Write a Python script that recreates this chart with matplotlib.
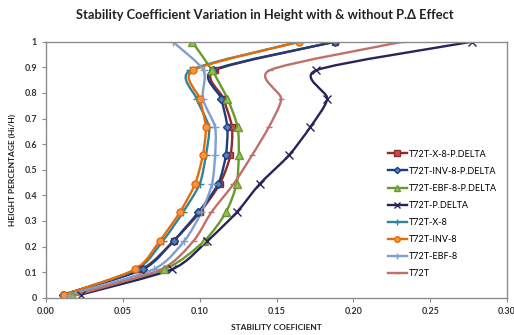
import numpy as np
import matplotlib.pyplot as plt
from matplotlib.path import Path
from matplotlib.patches import PathPatch
from matplotlib.lines import Line2D

plt.rcParams['font.family'] = ['Lato', 'DejaVu Sans']

# --- dados ---
altura = [0.012, 0.111, 0.222, 0.333, 0.444, 0.556, 0.667, 0.778, 0.889, 1.0]

x8_pd   = [0.0115, 0.062, 0.083, 0.100, 0.113, 0.120, 0.121, 0.1155, 0.110, 0.188]
inv8_pd = [0.011, 0.063, 0.083, 0.099, 0.112, 0.117, 0.118, 0.114, 0.1086, 0.188]
ebf8_pd = [0.017, 0.077, 0.103, 0.117, 0.124, 0.1254, 0.1247, 0.118, 0.108, 0.095]
t72t_pd = [0.0225, 0.082, 0.105, 0.124, 0.139, 0.158, 0.172, 0.183, 0.176, 0.277]
x8      = [0.012, 0.059, 0.076, 0.089, 0.100, 0.104, 0.106, 0.098, 0.094, 0.165]
inv8    = [0.012, 0.058, 0.074, 0.087, 0.097, 0.102, 0.104, 0.100, 0.0957, 0.1645]
ebf8    = [0.015, 0.070, 0.090, 0.101, 0.108, 0.110, 0.110, 0.102, 0.1025, 0.0825]
t72t    = [0.020, 0.075, 0.096, 0.1075, 0.122, 0.134, 0.145, 0.153, 0.1456, 0.232]

series = [
    ('T72T-X-8-P.DELTA',   x8_pd,   '#8E2B2B', 's', '#C0504D', 5),
    ('T72T-INV-8-P.DELTA', inv8_pd, '#1F3D7A', 'D', '#4F81BD', 4),
    ('T72T-EBF-8-P.DELTA', ebf8_pd, '#6A9A2E', '^', '#9BBB59', 5.5),
    ('T72T-P.DELTA',       t72t_pd, '#28245A', 'x', '#8064A2', 5.5),
    ('T72T-X-8',           x8,      '#2F8598', '+', '#4BACC6', 5.5),
    ('T72T-INV-8',         inv8,    '#E46C0A', 'o', '#F79646', 5),
    ('T72T-EBF-8',         ebf8,    '#7F9FD0', '+', '#7F9FD0', 5.5),
    ('T72T',               t72t,    '#C0706A', '_', '#C0706A', 4),
]


def curva_suave(x, y, k=8.0):
    # bezier parecido com o "linha suavizada" do Excel
    pts = np.column_stack([x, y])
    verts = [pts[0]]
    codes = [Path.MOVETO]
    n = len(pts)
    for i in range(n - 1):
        p0 = pts[max(i - 1, 0)]
        p1 = pts[i]
        p2 = pts[i + 1]
        p3 = pts[min(i + 2, n - 1)]
        c1 = p1 + (p2 - p0) / k
        c2 = p2 - (p3 - p1) / k
        verts += [c1, c2, p2]
        codes += [Path.CURVE4] * 3
    return Path(verts, codes)


fig = plt.figure(figsize=(5.14, 3.35), dpi=100)
ax = fig.add_axes([0.0895, 0.1113, 0.897, 0.764])

handles = []
for nome, vals, cor, mk, mcor, ms in series:
    ax.add_patch(PathPatch(curva_suave(vals, altura), fill=False,
                           edgecolor=cor, lw=1.7))
    ax.plot(vals, altura, ls='none', marker=mk, ms=ms, mfc=mcor,
            mec=cor, mew=1.0)
    handles.append(Line2D([], [], color=cor, lw=1.7, marker=mk, ms=ms,
                          mfc=mcor, mec=cor, mew=1.0, label=nome))

ax.set_xlim(0, 0.30)
ax.set_ylim(0, 1)
ax.set_xticks(np.arange(0, 0.301, 0.05))
ax.set_xticklabels([f'{v:.2f}' for v in np.arange(0, 0.301, 0.05)])
ax.set_yticks(np.arange(0, 1.01, 0.1))
ax.set_yticklabels(['0'] + [f'{v:.1f}' for v in np.arange(0.1, 0.95, 0.1)] + ['1'])

for s in ax.spines.values():
    s.set_color('#8C8C8C')
    s.set_linewidth(1.0)
ax.tick_params(colors='#8C8C8C', length=3, width=0.8, labelsize=6.5,
               labelcolor='#333333')
for lab in ax.get_xticklabels() + ax.get_yticklabels():
    lab.set_fontweight('bold')

ax.set_xlabel('STABILITY COEFICIENT', fontsize=6, fontweight='bold',
              color='#222222', labelpad=6)
ax.set_ylabel('HEIGHT PERCENTAGE (Hi/H)', fontsize=6, fontweight='bold',
              color='#222222', labelpad=6)

fig.text(0.515, 0.955, 'Stability Coefficient Variation in Height with & without P.\u0394 Effect',
         ha='center', va='center', fontsize=9.3, fontweight='bold', color='#222222')

ax.legend(handles=handles, loc='upper left', bbox_to_anchor=(383 / 514, 1 - 145 / 335),
          bbox_transform=fig.transFigure, frameon=False, fontsize=6.5,
          borderpad=0, handlelength=2.2, handletextpad=0.2, labelspacing=0.9,
          markerscale=0.8)

fig.savefig('out.png', dpi=100)
